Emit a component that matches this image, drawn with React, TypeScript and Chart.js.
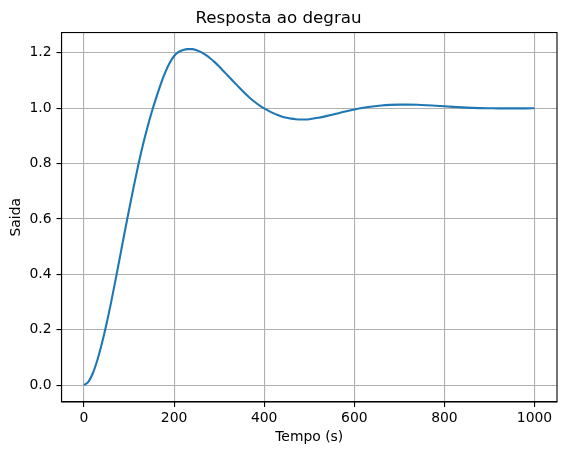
import React, { useEffect, useRef } from "react";
import Chart from "chart.js/auto";

const timeValues = [
  0, 10, 20, 30, 40, 50, 60, 70, 80, 90, 100, 110, 120, 130, 140, 150, 160, 170, 180, 190,
  200, 210, 220, 230, 240, 250, 260, 270, 280, 290, 300, 310, 320, 330, 340, 350, 360, 370, 380, 390,
  400, 410, 420, 430, 440, 450, 460, 470, 480, 490, 500, 520, 540, 560, 580, 600, 620, 640, 660, 680,
  700, 720, 740, 760, 780, 800, 820, 840, 860, 880, 900, 920, 940, 960, 980, 1000,
];

const outputValues = [
  0.0, 0.013, 0.045, 0.093, 0.153, 0.222, 0.298, 0.38, 0.465, 0.55, 0.633, 0.714, 0.791, 0.862, 0.926, 0.984, 1.036, 1.085, 1.128, 1.163,
  1.188, 1.203, 1.21, 1.213, 1.213, 1.209, 1.202, 1.192, 1.18, 1.166, 1.15, 1.133, 1.116, 1.099, 1.082, 1.065, 1.049, 1.034, 1.021, 1.009,
  0.999, 0.99, 0.982, 0.975, 0.969, 0.965, 0.962, 0.96, 0.959, 0.959, 0.96, 0.965, 0.972, 0.98, 0.988, 0.995, 1.001, 1.006, 1.0095, 1.0115,
  1.0125, 1.0125, 1.012, 1.0105, 1.0085, 1.0065, 1.0045, 1.0025, 1.001, 1.0, 0.9995, 0.999, 0.999, 0.999, 0.999, 0.9995,
];

const xTickValues = [0, 200, 400, 600, 800, 1000];
const yTickValues = [0, 0.2, 0.4, 0.6, 0.8, 1.0, 1.2];

const FONT = "'DejaVu Sans', sans-serif";

export default function App() {
  const ref = useRef<HTMLCanvasElement>(null);

  useEffect(() => {
    const framePlugin = {
      id: "frame",
      afterDatasetsDraw(chart: any) {
        const { ctx, chartArea } = chart;
        const { left, top, right, bottom } = chartArea;
        ctx.save();
        ctx.strokeStyle = "#000";
        ctx.lineWidth = 1.1;
        ctx.strokeRect(left, top, right - left, bottom - top);
        ctx.restore();
      },
    };

    const chart = new Chart(ref.current as HTMLCanvasElement, {
      type: "line",
      data: {
        datasets: [
          {
            data: timeValues.map((t, i) => ({ x: t, y: outputValues[i] })),
            borderColor: "#1f77b4",
            borderWidth: 2.1,
            pointRadius: 0,
            cubicInterpolationMode: "monotone",
            fill: false,
          },
        ],
      },
      options: {
        animation: false,
        responsive: false,
        maintainAspectRatio: false,
        layout: { padding: { left: 0, right: 10, top: 0, bottom: 0 } },
        plugins: {
          legend: { display: false },
          tooltip: { enabled: false },
          title: {
            display: true,
            text: "Resposta ao degrau",
            color: "#000",
            font: { family: FONT, size: 16.7, weight: "normal", lineHeight: 1.2 },
            padding: { top: 8.2, bottom: 4.3 },
          },
        },
        scales: {
          x: {
            type: "linear",
            min: -50,
            max: 1050,
            afterBuildTicks: (s: any) => {
              s.ticks = xTickValues.map((v) => ({ value: v }));
            },
            afterFit: (s: any) => {
              s.height = 53;
            },
            grid: { color: "#b0b0b0", lineWidth: 1.1, tickColor: "#000", tickLength: 5, tickWidth: 1.1 },
            border: { color: "#000", width: 1.1 },
            ticks: {
              color: "#000",
              font: { family: FONT, size: 13.9 },
              padding: 3,
              maxRotation: 0,
              autoSkip: false,
              callback: (v: any) => String(v),
            },
            title: {
              display: true,
              text: "Tempo (s)",
              color: "#000",
              font: { family: FONT, size: 13.9, lineHeight: 1.2 },
              padding: { top: 0, bottom: 9.7 },
            },
          },
          y: {
            type: "linear",
            min: -0.0606,
            max: 1.2727,
            afterBuildTicks: (s: any) => {
              s.ticks = yTickValues.map((v) => ({ value: v }));
            },
            afterFit: (s: any) => {
              s.width = 61.5;
            },
            grid: { color: "#b0b0b0", lineWidth: 1.1, tickColor: "#000", tickLength: 5, tickWidth: 1.1 },
            border: { color: "#000", width: 1.1 },
            ticks: {
              color: "#000",
              font: { family: FONT, size: 13.9 },
              padding: 5,
              autoSkip: false,
              callback: (v: any) => Number(v).toFixed(1),
            },
            title: {
              display: true,
              text: "Saida",
              color: "#000",
              font: { family: FONT, size: 13.9, lineHeight: 1.2 },
              padding: { top: 8.4, bottom: 0 },
            },
          },
        },
      },
      plugins: [framePlugin],
    } as any);

    return () => chart.destroy();
  }, []);

  return (
    <div style={{ position: "fixed", left: 0, top: 0, width: 567, height: 455 }}>
      <canvas ref={ref} width={567} height={455} style={{ width: 567, height: 455, display: "block" }} />
    </div>
  );
}
